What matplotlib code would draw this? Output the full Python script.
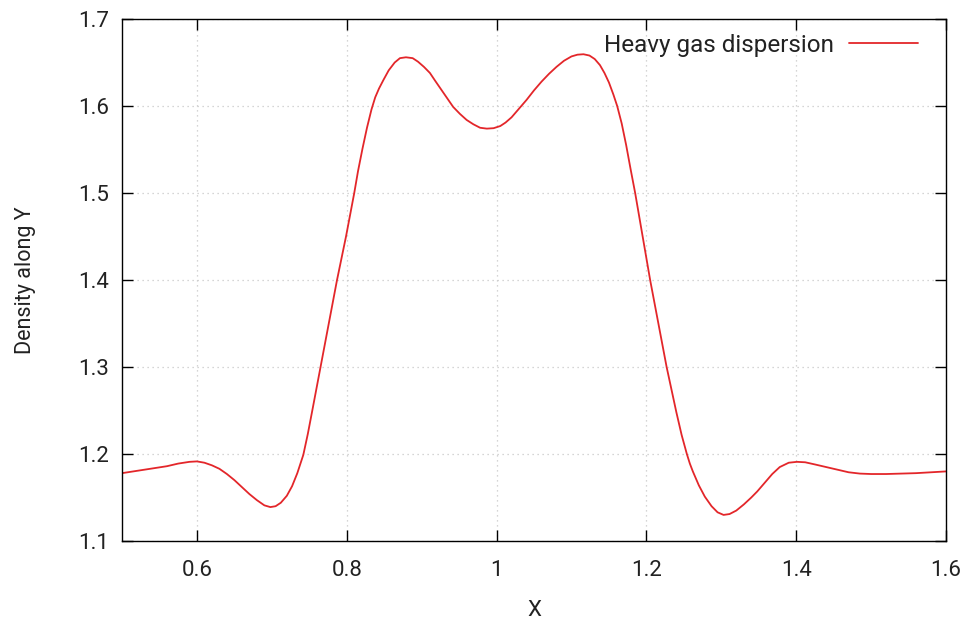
import matplotlib
matplotlib.use("Agg")
import matplotlib.pyplot as plt

# Density profile sampled along X
x_vals = [0.500, 0.515, 0.530, 0.545, 0.560, 0.575, 0.590, 0.600, 0.610, 0.620,
          0.630, 0.640, 0.650, 0.660, 0.670, 0.680, 0.690, 0.698, 0.705, 0.712,
          0.720, 0.727, 0.734, 0.742, 0.748, 0.754, 0.765, 0.776, 0.787, 0.799,
          0.810, 0.815, 0.821, 0.827, 0.833, 0.838, 0.843, 0.849, 0.856, 0.864,
          0.871, 0.879, 0.888, 0.895, 0.903, 0.911, 0.918, 0.926, 0.934, 0.942,
          0.951, 0.960, 0.969, 0.978, 0.987, 0.996, 1.005, 1.012, 1.020, 1.030,
          1.040, 1.050, 1.060, 1.070, 1.080, 1.090, 1.100, 1.108, 1.116, 1.124,
          1.131, 1.138, 1.144, 1.150, 1.156, 1.161, 1.167, 1.173, 1.179, 1.185,
          1.195, 1.205, 1.216, 1.227, 1.240, 1.247, 1.254, 1.258, 1.262, 1.270,
          1.278, 1.287, 1.295, 1.303, 1.311, 1.320, 1.330, 1.340, 1.348, 1.358,
          1.368, 1.378, 1.390, 1.401, 1.412, 1.425, 1.440, 1.455, 1.470, 1.485,
          1.500, 1.520, 1.540, 1.560, 1.580, 1.600]
density = [1.178, 1.180, 1.182, 1.184, 1.186, 1.189, 1.191, 1.1915, 1.190, 1.187,
           1.183, 1.177, 1.170, 1.162, 1.154, 1.147, 1.141, 1.139, 1.140, 1.144,
           1.152, 1.163, 1.178, 1.199, 1.223, 1.250, 1.300, 1.350, 1.400, 1.450,
           1.500, 1.525, 1.551, 1.575, 1.596, 1.610, 1.620, 1.630, 1.641, 1.650,
           1.655, 1.656, 1.655, 1.651, 1.645, 1.638, 1.629, 1.619, 1.609, 1.599,
           1.591, 1.584, 1.579, 1.575, 1.574, 1.5745, 1.577, 1.581, 1.587, 1.597,
           1.607, 1.618, 1.628, 1.637, 1.645, 1.652, 1.657, 1.659, 1.6595, 1.658,
           1.654, 1.647, 1.638, 1.627, 1.613, 1.600, 1.580, 1.555, 1.527, 1.500,
           1.450, 1.400, 1.350, 1.300, 1.248, 1.222, 1.200, 1.189, 1.180, 1.164,
           1.151, 1.140, 1.133, 1.130, 1.131, 1.135, 1.142, 1.150, 1.157, 1.167,
           1.177, 1.185, 1.190, 1.191, 1.1905, 1.188, 1.185, 1.182, 1.179, 1.1775,
           1.177, 1.177, 1.1775, 1.178, 1.179, 1.180]

x_ticks = [0.6, 0.8, 1.0, 1.2, 1.4, 1.6]
x_tick_labels = ["0.6", "0.8", "1", "1.2", "1.4", "1.6"]
y_ticks = [1.1, 1.2, 1.3, 1.4, 1.5, 1.6, 1.7]
y_tick_labels = ["1.1", "1.2", "1.3", "1.4", "1.5", "1.6", "1.7"]

font = ["Roboto", "DejaVu Sans"]
text_color = "#222222"

fig = plt.figure(figsize=(9.7, 6.21), dpi=100)
ax = fig.add_axes([0.1258, 0.1288, 0.8495, 0.8406])

ax.plot(x_vals, density, color="#e3262a", lw=1.3, solid_joinstyle="round",
        solid_capstyle="round", label="Heavy gas dispersion")

ax.set_xlim(0.5, 1.6)
ax.set_ylim(1.1, 1.7)
ax.set_xticks(x_ticks)
ax.set_xticklabels(x_tick_labels, fontfamily=font, fontsize=16)
ax.set_yticks(y_ticks)
ax.set_yticklabels(y_tick_labels, fontfamily=font, fontsize=16)

ax.tick_params(direction="in", length=8, width=1, top=True, right=True,
               color="black", labelcolor=text_color)
ax.tick_params(axis="x", pad=13.5)
ax.tick_params(axis="y", pad=9.5)

ax.grid(True, color="#c8c8c8", linestyle=(0, (1, 3)), linewidth=0.9)
for sp in ax.spines.values():
    sp.set_linewidth(1.0)
    sp.set_color("black")

# Axis titles
fig.text(0.5505, 1 - 611 / 621, "X", fontfamily=font, fontsize=16,
         color=text_color, ha="center", va="center")
fig.text(26 / 970, 1 - 280 / 621, "Density along Y", fontfamily=font,
         fontsize=15.5, color=text_color, ha="center", va="center", rotation=90)

leg = ax.legend(loc="center right", bbox_to_anchor=(0.966, 0.950),
                frameon=False, markerfirst=False, borderpad=0, borderaxespad=0,
                prop={"family": font, "size": 17.5}, handlelength=2.85,
                handletextpad=0.6)
for t in leg.get_texts():
    t.set_color(text_color)

fig.savefig("out.png", dpi=100)
